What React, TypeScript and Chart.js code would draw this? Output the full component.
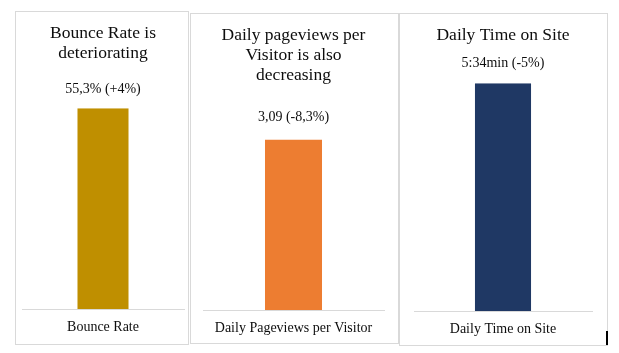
import React, { useEffect, useRef } from "react";
import { Chart, registerables } from "chart.js";

Chart.register(...registerables);

// ---- data ----
const titles: string[][] = [
  ["Bounce Rate is", "deteriorating"],
  ["Daily pageviews per", "Visitor is also", "decreasing"],
  ["Daily Time on Site"],
];
const categories: string[] = ["Bounce Rate", "Daily Pageviews per Visitor", "Daily Time on Site"];
const values: number[] = [55.3, 3.09, 5.57];
const valueLabels: string[] = ["55,3% (+4%)", "3,09 (-8,3%)", "5:34min (-5%)"];
const colors: string[] = ["#BF8F00", "#ED7D31", "#1F3864"];

// ---- layout (not data) ----
const panels = [
  { left: 15, top: 11, width: 174, height: 334, padL: 6, padR: 4, titleBottom: 46, labelGap: 19, bottomSpace: 35 },
  { left: 190, top: 13, width: 209, height: 331, padL: 12, padR: 14, titleBottom: 55, labelGap: 22, bottomSpace: 33 },
  { left: 399, top: 13, width: 209, height: 333, padL: 14, padR: 15, titleBottom: 39, labelGap: 20, bottomSpace: 34 },
];

const FONT = "'Liberation Serif', serif";
const TEXT = "#0d0d0d";
const TICK_PAD = 11.5;
const TICK_SIZE = 14;
const TICK_LH = 1.0;

function Panel({ idx }: { idx: number }) {
  const ref = useRef<HTMLCanvasElement | null>(null);
  const p = panels[idx];
  const w = p.width - 2;
  const h = p.height - 2;

  useEffect(() => {
    if (!ref.current) return;
    const labelPlugin = {
      id: "valueLabel",
      afterDatasetsDraw(chart: any) {
        const ctx = chart.ctx;
        const meta = chart.getDatasetMeta(0);
        const bar = meta.data[0];
        if (!bar) return;
        ctx.save();
        ctx.font = `14px ${FONT}`;
        ctx.fillStyle = TEXT;
        ctx.textAlign = "center";
        ctx.textBaseline = "middle";
        ctx.fillText(valueLabels[idx], bar.x, bar.y - p.labelGap);
        ctx.restore();
      },
    };
    const chart = new Chart(ref.current, {
      type: "bar",
      data: {
        labels: [categories[idx]],
        datasets: [
          {
            data: [values[idx]],
            backgroundColor: colors[idx],
            borderWidth: 0,
            barPercentage: 0.315,
            categoryPercentage: 1,
          },
        ],
      },
      options: {
        responsive: false,
        animation: false,
        devicePixelRatio: 1,
        layout: {
          padding: {
            left: p.padL,
            right: p.padR,
            top: 0,
            bottom: p.bottomSpace - (TICK_SIZE * TICK_LH + 2 * TICK_PAD),
          },
        },
        plugins: {
          legend: { display: false },
          tooltip: { enabled: false },
          title: {
            display: true,
            text: titles[idx],
            color: TEXT,
            font: { family: FONT, size: 17.5, weight: 400, style: "normal", lineHeight: 1.15 },
            padding: { top: 11, bottom: p.titleBottom - 1 },
          },
        },
        scales: {
          x: {
            grid: { display: false, drawTicks: false },
            border: { display: true, color: "#d9d9d9", width: 1 },
            ticks: {
              color: TEXT,
              padding: TICK_PAD,
              font: { family: FONT, size: TICK_SIZE, lineHeight: TICK_LH },
              maxRotation: 0,
              autoSkip: false,
            },
          },
          y: {
            display: false,
            min: 0,
            max: values[idx],
          },
        },
      },
      plugins: [labelPlugin],
    } as any);
    return () => chart.destroy();
  }, [idx]);

  return (
    <div
      style={{
        position: "absolute",
        left: p.left,
        top: p.top,
        width: p.width,
        height: p.height,
        boxSizing: "border-box",
        border: "1px solid #d9d9d9",
        background: "#fff",
      }}
    >
      <canvas ref={ref} width={w} height={h} style={{ display: "block", width: w, height: h }} />
    </div>
  );
}

export default function App() {
  return (
    <div style={{ position: "absolute", left: 0, top: 0, width: 619, height: 353, background: "#fff", overflow: "hidden" }}>
      <Panel idx={0} />
      <Panel idx={1} />
      <Panel idx={2} />
      <div style={{ position: "absolute", left: 606, top: 331, width: 2, height: 14, background: "#000" }} />
    </div>
  );
}
